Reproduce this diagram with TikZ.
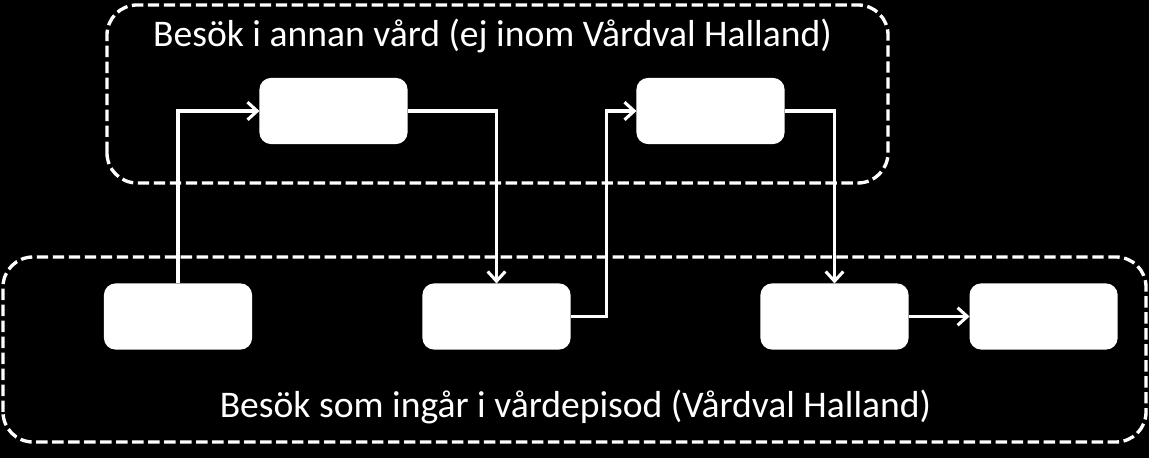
\documentclass[tikz,border=0pt]{standalone}
\usepackage{fontspec}
\setmainfont{Carlito}
\usetikzlibrary{arrows.meta,positioning}
\begin{document}
\begin{tikzpicture}[x=1cm,y=1cm,line width=1.75pt,font=\fontsize{21.4}{25}\selectfont,
    visit/.style={draw=white,fill=white,rounded corners=.2cm,minimum width=2.9cm,minimum height=1.26cm,inner sep=0pt},
    frame/.style={draw=white,line width=1.9pt,dash pattern=on 6.5pt off 2.6pt,rounded corners=.6cm},
    caption/.style={text=white,anchor=base,inner sep=0pt},
    flow/.style={draw=white,-{Straight Barb[length=5.5pt,width=10pt]}}]
  % background
  \fill[black] (0,0) rectangle (22.98,9.16);
  \useasboundingbox (0,0) rectangle (22.98,9.16);
  % frames
  \draw[frame] (2.14,5.5) rectangle (17.76,9.06);
  \draw[frame] (.06,.32) rectangle (22.92,4.02);
  \node[caption] (other) at (9.85,8.22) {Besök i annan vård (ej inom Vårdval Halland)};
  \node[caption] (episode) at (11.51,.8) {Besök som ingår i vårdepisod (Vårdval Halland)};
  % visits
  \node[visit] (a) at (3.56,2.83) {};
  \node[visit] (b) at (6.67,6.94) {};
  \node[visit] (c) at (9.93,2.83) {};
  \node[visit] (d) at (14.21,6.94) {};
  \node[visit] (e) at (16.69,2.83) {};
  \node[visit,right=1.22cm of e] (f) {};
  % connectors
  \draw[flow] (a.north) |- (b.west);
  \draw[flow] (b.east) -| (c.north);
  \draw[flow] (c.east) -- ++(.72,0) |- (d.west);
  \draw[flow] (d.east) -| (e.north);
  \draw[flow] (e) -- (f);
\end{tikzpicture}
\end{document}
